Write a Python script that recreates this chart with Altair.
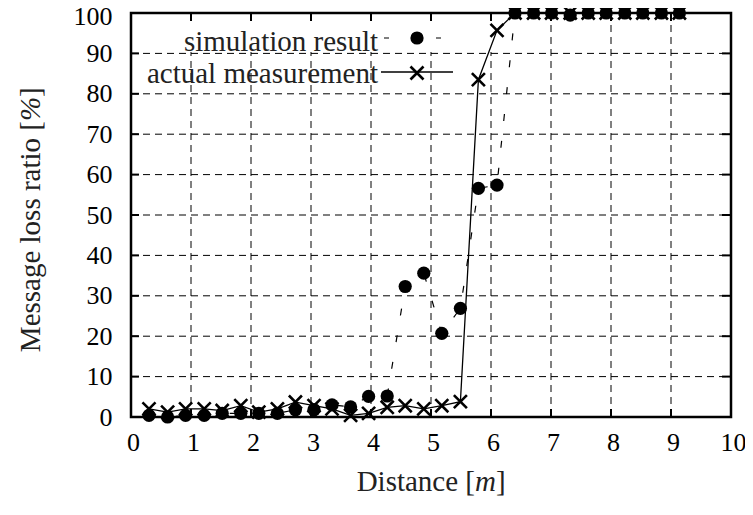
import altair as alt
import pandas as pd

# ---- data ----
distance = [0.30, 0.61, 0.91, 1.22, 1.52, 1.83, 2.13, 2.44, 2.74, 3.05,
            3.35, 3.66, 3.96, 4.27, 4.57, 4.88, 5.18, 5.49, 5.79, 6.10,
            6.40, 6.71, 7.01, 7.32, 7.62, 7.92, 8.23, 8.53, 8.84, 9.14]
simulation = [0.4, 0.0, 0.4, 0.4, 0.9, 0.9, 0.9, 0.9, 1.8, 1.8,
              3.0, 2.5, 5.1, 5.2, 32.3, 35.6, 20.7, 26.9, 56.6, 57.4,
              100, 100, 100, 99.5, 100, 100, 100, 100, 100, 100]
measurement = [2.0, 1.2, 2.0, 2.0, 1.6, 2.8, 1.2, 2.0, 3.7, 2.8,
               2.0, 0.4, 0.9, 2.4, 2.8, 2.0, 2.8, 3.8, 83.5, 95.7,
               100, 100, 100, 100, 100, 100, 100, 100, 100, 100]
x_ticks = [0, 1, 2, 3, 4, 5, 6, 7, 8, 9, 10]
y_ticks = [0, 10, 20, 30, 40, 50, 60, 70, 80, 90, 100]
x_grid = [1, 2, 3, 4, 5, 6, 7, 8, 9]
y_grid = [10, 20, 30, 40, 50, 60, 70, 80, 90]
legend_labels = ["simulation result", "actual measurement"]
x_title = ["Distance [", "m", "]"]
y_title = ["Message loss ratio [", "%", "]"]

W, H = 600, 404
FONT = "Liberation Serif"
CROSS = "M-1,-1L1,1M1,-1L-1,1"

df = pd.DataFrame({"d": distance, "sim": simulation, "act": measurement})
gx = pd.DataFrame({"g": x_grid})
gy = pd.DataFrame({"g": y_grid})
one = pd.DataFrame({"a": [0]})

xs = alt.Scale(domain=[0, 10], nice=False)
ys = alt.Scale(domain=[0, 100], nice=False)

x_axis = alt.Axis(values=x_ticks, grid=False, domain=False, ticks=False, tickSize=0,
                  labelFont=FONT, labelFontSize=26, labelColor="black",
                  labelPadding=12, labelOffset=2, title="", labelFlush=False)
y_axis = alt.Axis(values=y_ticks, grid=False, domain=False, ticks=False, tickSize=0,
                  labelFont=FONT, labelFontSize=26, labelColor="black",
                  labelPadding=19, title="", labelFlush=False,
                  labelOffset={"condition": {"test": "datum.value == 100", "value": 3}, "value": 0})


def X(f):
    return alt.X(f, scale=xs, axis=x_axis)


def Y(f):
    return alt.Y(f, scale=ys, axis=y_axis)


# grid
vgrid = alt.Chart(gx).mark_rule(color="black", strokeWidth=1, strokeDash=[7, 5]).encode(
    x=X("g:Q"), y=alt.value(0), y2=alt.value(H))
hgrid = alt.Chart(gy).mark_rule(color="black", strokeWidth=1, strokeDash=[7, 5]).encode(
    y=Y("g:Q"), x=alt.value(0), x2=alt.value(W))

# opaque key box
keybox = alt.Chart(one).mark_rect(color="white").encode(
    x=alt.value(2), x2=alt.value(406), y=alt.value(2), y2=alt.value(39))

# inward ticks
tb = alt.Chart(gx).mark_rule(color="black", strokeWidth=2).encode(
    x=X("g:Q"), y=alt.value(H), y2=alt.value(H - 8))
tt = alt.Chart(gx).mark_rule(color="black", strokeWidth=2).encode(
    x=X("g:Q"), y=alt.value(0), y2=alt.value(8))
tl = alt.Chart(gy).mark_rule(color="black", strokeWidth=2).encode(
    y=Y("g:Q"), x=alt.value(0), x2=alt.value(8))
tr = alt.Chart(gy).mark_rule(color="black", strokeWidth=2).encode(
    y=Y("g:Q"), x=alt.value(W), x2=alt.value(W - 9))

border = alt.Chart(one).mark_rect(fillOpacity=0, stroke="black", strokeWidth=2.5).encode(
    x=alt.value(0), x2=alt.value(W), y=alt.value(0), y2=alt.value(H))

base = alt.Chart(df)
sim_line = base.mark_line(color="black", strokeWidth=1.2, strokeDash=[7, 20]).encode(
    x=X("d:Q"), y=Y("sim:Q"))
sim_pts = base.mark_point(shape="circle", filled=True, color="black", size=175, opacity=1).encode(
    x=X("d:Q"), y=Y("sim:Q"))
act_line = base.mark_line(color="black", strokeWidth=1.3).encode(
    x=X("d:Q"), y=Y("act:Q"))
act_pts = base.mark_point(shape=CROSS, filled=False, color="black", size=170,
                          strokeWidth=2.6, opacity=1).encode(
    x=X("d:Q"), y=Y("act:Q"))

# legend
leg1_txt = alt.Chart(one).mark_text(text=legend_labels[0], font=FONT, fontSize=29,
                                   align="right", baseline="alphabetic", color="#222").encode(
    x=alt.value(247), y=alt.value(38))
leg2_txt = alt.Chart(one).mark_text(text=legend_labels[1], font=FONT, fontSize=29,
                                   align="right", baseline="alphabetic", color="#222").encode(
    x=alt.value(247), y=alt.value(70))
leg1_line = alt.Chart(one).mark_rule(color="black", strokeWidth=1.2, strokeDash=[5, 47]).encode(
    x=alt.value(253), x2=alt.value(310), y=alt.value(25))
leg1_pt = alt.Chart(one).mark_point(shape="circle", filled=True, color="black", size=175, opacity=1).encode(
    x=alt.value(286), y=alt.value(25))
leg2_line = alt.Chart(one).mark_rule(color="black", strokeWidth=1.3).encode(
    x=alt.value(250), x2=alt.value(322), y=alt.value(59))
leg2_pt = alt.Chart(one).mark_point(shape=CROSS, filled=False, color="black", size=170,
                                    strokeWidth=2.6, opacity=1).encode(
    x=alt.value(286), y=alt.value(60))

# axis titles (with italic unit letters)
TY = 478
xt1 = alt.Chart(one).mark_text(text=x_title[0], font=FONT, fontSize=29, align="right",
                               baseline="alphabetic", color="#222").encode(x=alt.value(344), y=alt.value(TY))
xt2 = alt.Chart(one).mark_text(text=x_title[1], font=FONT, fontSize=29, fontStyle="italic", align="left",
                               baseline="alphabetic", color="#222").encode(x=alt.value(344), y=alt.value(TY))
xt3 = alt.Chart(one).mark_text(text=x_title[2], font=FONT, fontSize=29, align="left",
                               baseline="alphabetic", color="#222").encode(x=alt.value(365), y=alt.value(TY))
TX = -91
yt1 = alt.Chart(one).mark_text(text=y_title[0], font=FONT, fontSize=29, angle=270, align="right",
                               baseline="alphabetic", color="#222").encode(x=alt.value(TX), y=alt.value(108))
yt2 = alt.Chart(one).mark_text(text=y_title[1], font=FONT, fontSize=29, angle=270, fontStyle="italic",
                               align="left", baseline="alphabetic", color="#222").encode(x=alt.value(TX), y=alt.value(108))
yt3 = alt.Chart(one).mark_text(text=y_title[2], font=FONT, fontSize=29, angle=270, align="left",
                               baseline="alphabetic", color="#222").encode(x=alt.value(TX), y=alt.value(84))

chart = alt.layer(
    vgrid, hgrid, keybox, tb, tt, tl, tr, border,
    sim_line, sim_pts, act_line, act_pts,
    leg1_line, leg1_pt, leg2_line, leg2_pt, leg1_txt, leg2_txt,
    xt1, xt2, xt3, yt1, yt2, yt3,
).properties(
    width=W, height=H,
    autosize=alt.AutoSizeParams(type="none"),
    padding={"left": 123, "top": 5, "right": 14, "bottom": 82},
    background="white",
).configure_view(stroke=None)

chart.save("out.html", embed_options={"renderer": "svg", "actions": False})
